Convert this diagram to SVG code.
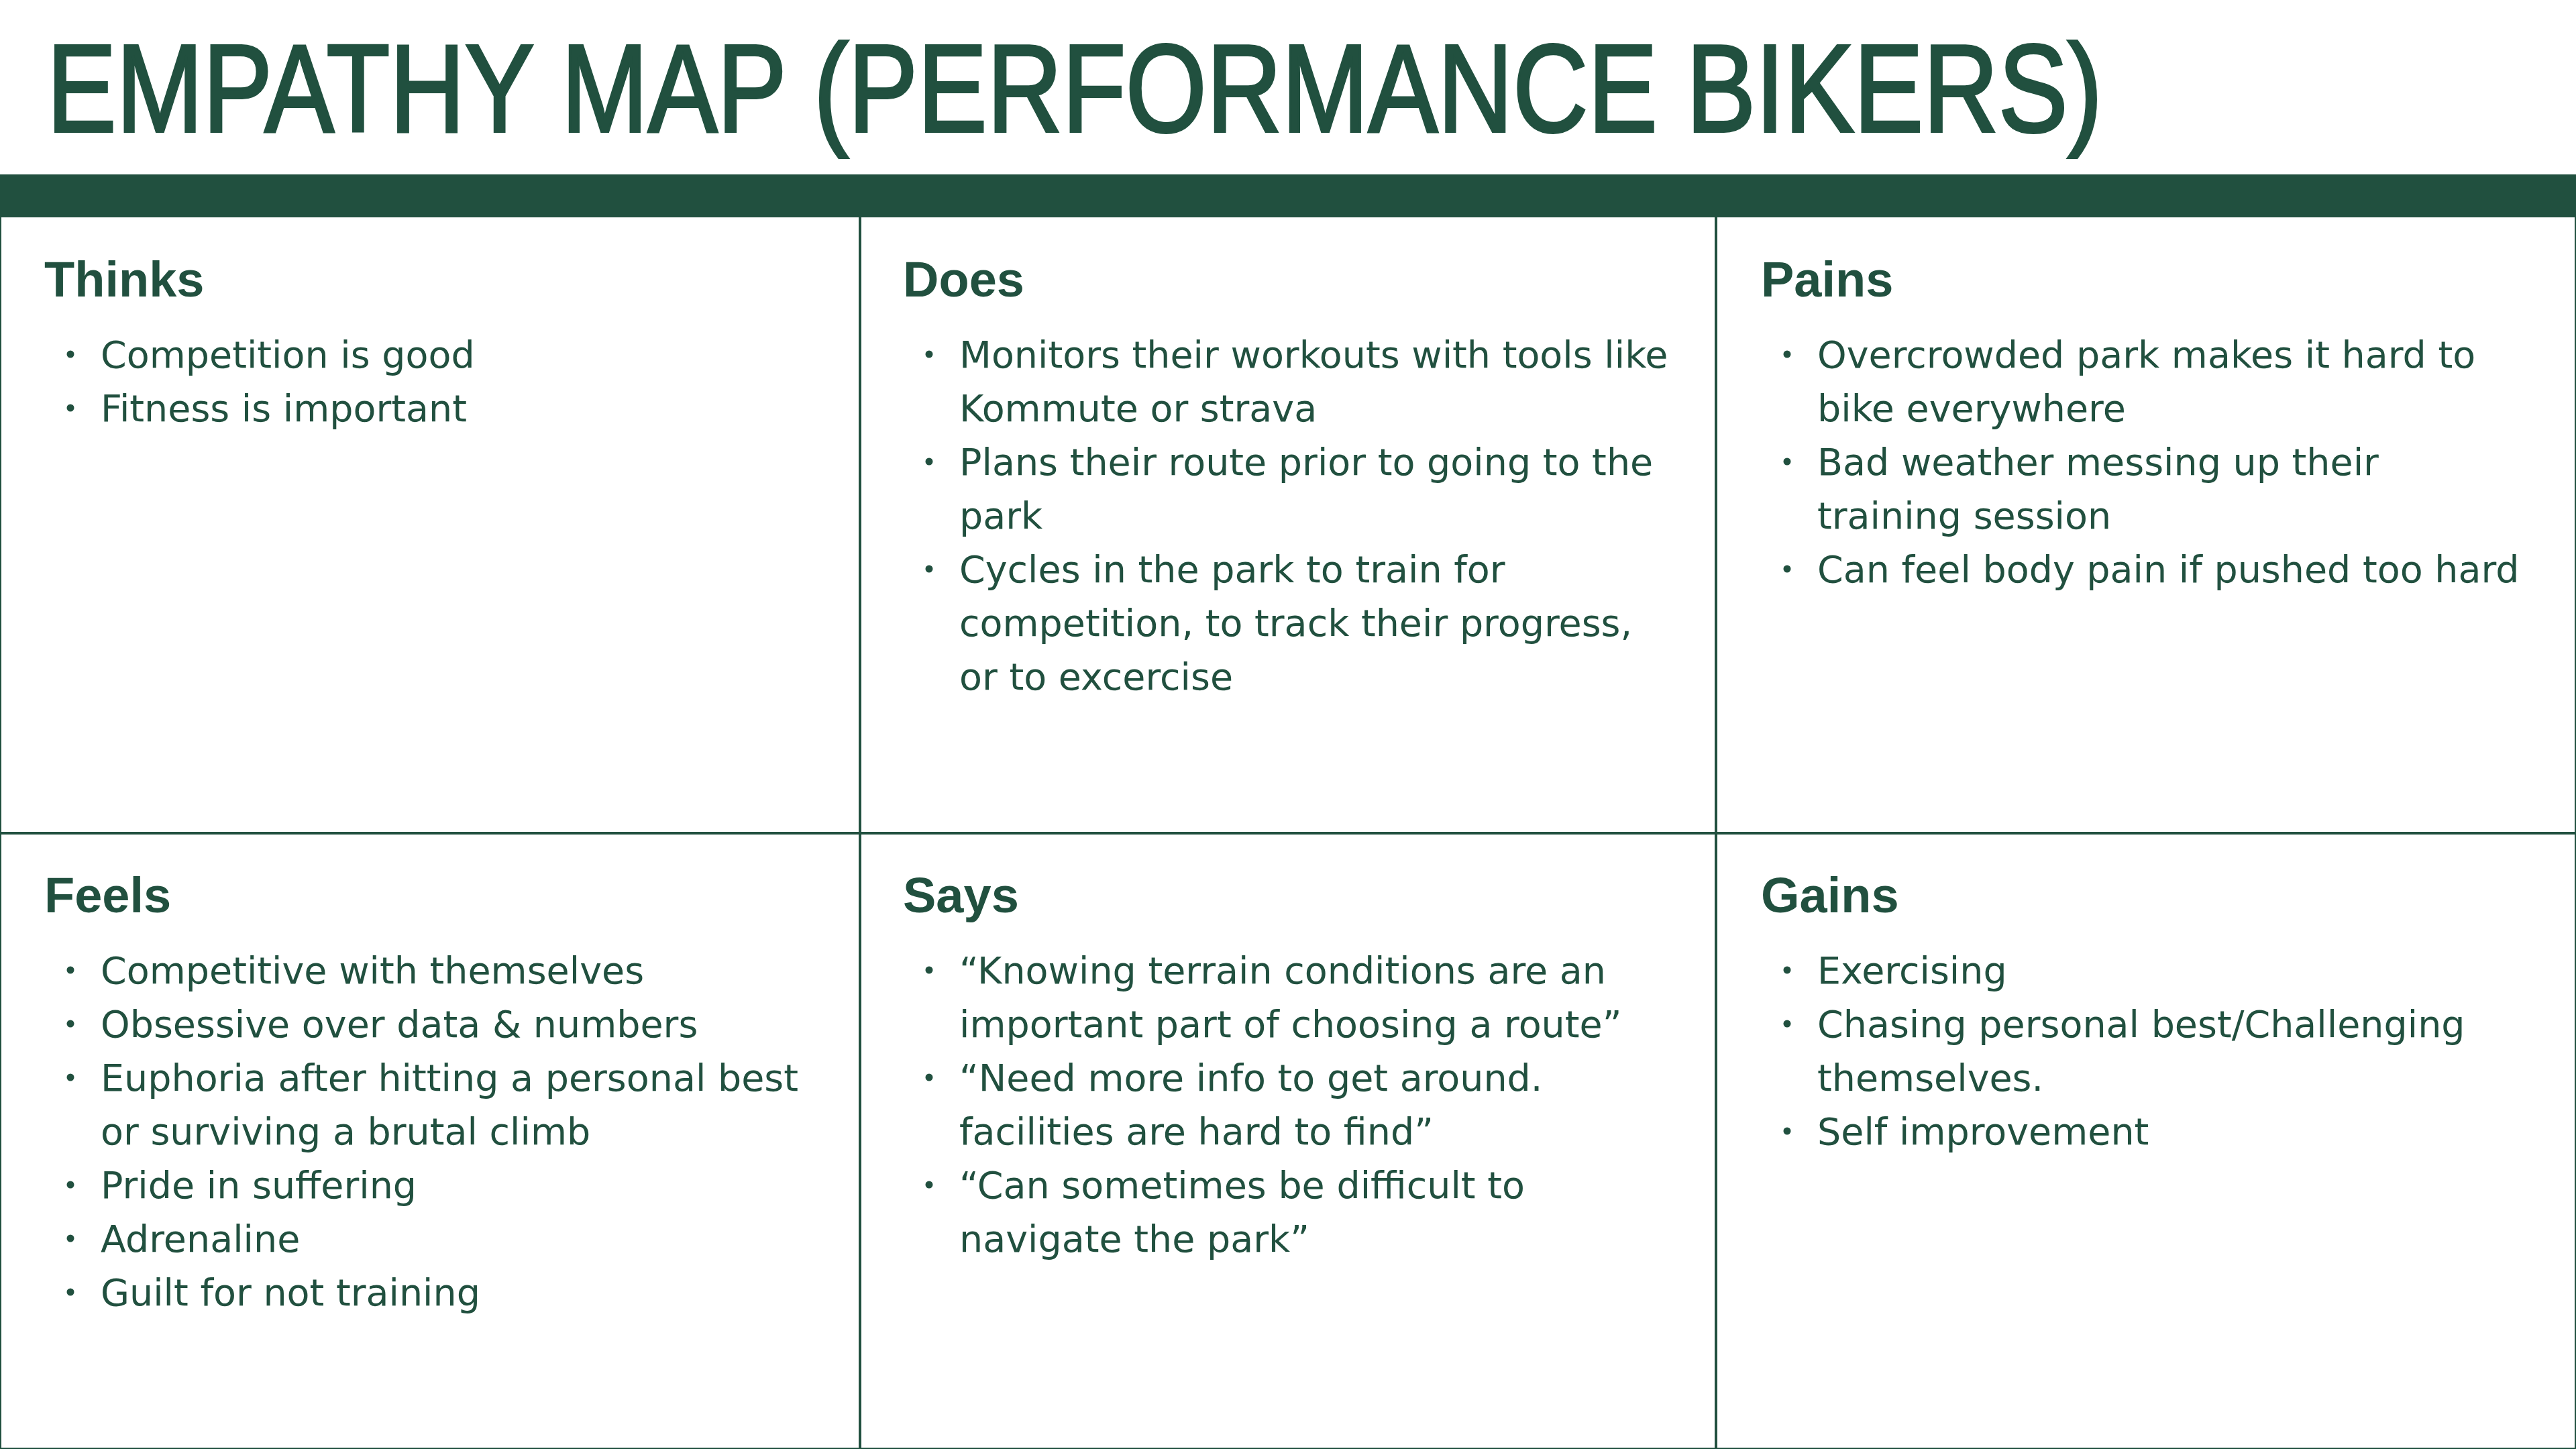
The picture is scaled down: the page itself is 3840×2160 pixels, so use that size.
<svg xmlns="http://www.w3.org/2000/svg" width="3840" height="2160" viewBox="0 0 3840 2160">
<style>
.title{font-family:"Liberation Sans",Arial,sans-serif;font-size:186px;fill:#21503F;stroke:#21503F;stroke-width:4px}
.head{font-family:"Liberation Sans",Arial,sans-serif;font-weight:bold;font-size:74px;fill:#21503F}
.body{font-family:"DejaVu Sans",sans-serif;font-size:55.5px;fill:#21503F}
.dot{fill:#21503F}
.grid{stroke:#21503F;stroke-width:4;fill:none}
</style>
<rect x="0" y="0" width="3840" height="2160" fill="#ffffff"/>
<text class="title" x="70" y="196" textLength="3064" lengthAdjust="spacingAndGlyphs">EMPATHY MAP (PERFORMANCE BIKERS)</text>
<rect x="0" y="260" width="3840" height="64" fill="#21503F"/>
<g id="connectors" class="grid">
<rect x="0" y="322" width="3840" height="1838"/>
<line x1="1282" y1="322" x2="1282" y2="2160"/>
<line x1="2558" y1="322" x2="2558" y2="2160"/>
<line x1="0" y1="1242" x2="3840" y2="1242"/>
</g>
<g id="thinks">
<text class="head" x="66" y="442">Thinks</text>
<circle class="dot" cx="105" cy="528" r="5.5"/>
<circle class="dot" cx="105" cy="608" r="5.5"/>
<text class="body" x="150" y="548">Competition is good</text>
<text class="body" x="150" y="628">Fitness is important</text>
</g>
<g id="does">
<text class="head" x="1346" y="442">Does</text>
<circle class="dot" cx="1385" cy="528" r="5.5"/>
<circle class="dot" cx="1385" cy="688" r="5.5"/>
<circle class="dot" cx="1385" cy="848" r="5.5"/>
<text class="body" x="1430" y="548">Monitors their workouts with tools like</text>
<text class="body" x="1430" y="628">Kommute or strava</text>
<text class="body" x="1430" y="708">Plans their route prior to going to the</text>
<text class="body" x="1430" y="788">park</text>
<text class="body" x="1430" y="868">Cycles in the park to train for</text>
<text class="body" x="1430" y="948">competition, to track their progress,</text>
<text class="body" x="1430" y="1028">or to excercise</text>
</g>
<g id="pains">
<text class="head" x="2625" y="442">Pains</text>
<circle class="dot" cx="2664" cy="528" r="5.5"/>
<circle class="dot" cx="2664" cy="688" r="5.5"/>
<circle class="dot" cx="2664" cy="848" r="5.5"/>
<text class="body" x="2709" y="548">Overcrowded park makes it hard to</text>
<text class="body" x="2709" y="628">bike everywhere</text>
<text class="body" x="2709" y="708">Bad weather messing up their</text>
<text class="body" x="2709" y="788">training session</text>
<text class="body" x="2709" y="868">Can feel body pain if pushed too hard</text>
</g>
<g id="feels">
<text class="head" x="66" y="1360">Feels</text>
<circle class="dot" cx="105" cy="1446" r="5.5"/>
<circle class="dot" cx="105" cy="1526" r="5.5"/>
<circle class="dot" cx="105" cy="1606" r="5.5"/>
<circle class="dot" cx="105" cy="1766" r="5.5"/>
<circle class="dot" cx="105" cy="1846" r="5.5"/>
<circle class="dot" cx="105" cy="1926" r="5.5"/>
<text class="body" x="150" y="1466">Competitive with themselves</text>
<text class="body" x="150" y="1546">Obsessive over data &amp; numbers</text>
<text class="body" x="150" y="1626">Euphoria after hitting a personal best</text>
<text class="body" x="150" y="1706">or surviving a brutal climb</text>
<text class="body" x="150" y="1786">Pride in suffering</text>
<text class="body" x="150" y="1866">Adrenaline</text>
<text class="body" x="150" y="1946">Guilt for not training</text>
</g>
<g id="says">
<text class="head" x="1346" y="1360">Says</text>
<circle class="dot" cx="1385" cy="1446" r="5.5"/>
<circle class="dot" cx="1385" cy="1606" r="5.5"/>
<circle class="dot" cx="1385" cy="1766" r="5.5"/>
<text class="body" x="1430" y="1466">“Knowing terrain conditions are an</text>
<text class="body" x="1430" y="1546">important part of choosing a route”</text>
<text class="body" x="1430" y="1626">“Need more info to get around.</text>
<text class="body" x="1430" y="1706">facilities are hard to find”</text>
<text class="body" x="1430" y="1786">“Can sometimes be difficult to</text>
<text class="body" x="1430" y="1866">navigate the park”</text>
</g>
<g id="gains">
<text class="head" x="2625" y="1360">Gains</text>
<circle class="dot" cx="2664" cy="1446" r="5.5"/>
<circle class="dot" cx="2664" cy="1526" r="5.5"/>
<circle class="dot" cx="2664" cy="1686" r="5.5"/>
<text class="body" x="2709" y="1466">Exercising</text>
<text class="body" x="2709" y="1546">Chasing personal best/Challenging</text>
<text class="body" x="2709" y="1626">themselves.</text>
<text class="body" x="2709" y="1706">Self improvement</text>
</g>
</svg>
